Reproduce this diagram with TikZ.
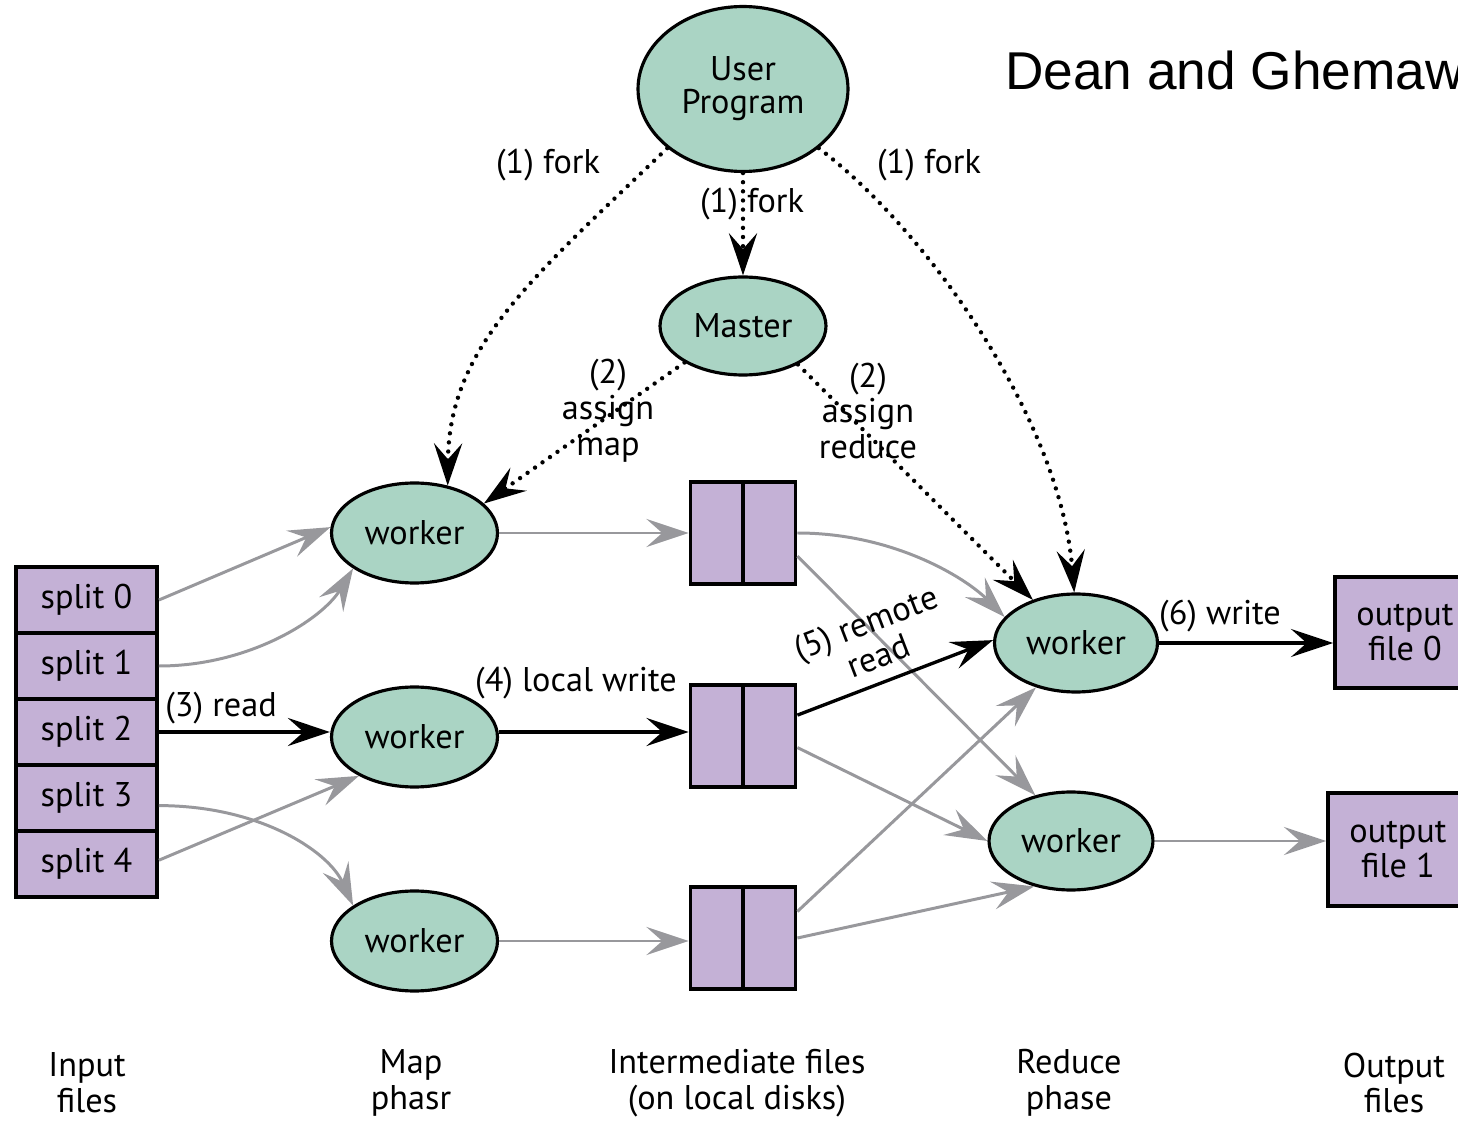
\documentclass[tikz,border=0pt]{standalone}
\usepackage{fontspec}
\setmainfont{PT Sans}
\newfontfamily\creditfont{Liberation Sans}
\usetikzlibrary{arrows.meta,shapes.geometric}
\definecolor{nodegreen}{RGB}{170,212,196}
\definecolor{filepurple}{RGB}{196,177,214}
\definecolor{arrowgray}{RGB}{152,152,156}
\newcommand\lblfont{\fontsize{19.5pt}{20.4pt}\selectfont}
\begin{document}
\begin{tikzpicture}[x=0.02cm,y=-0.02cm,
  proc/.style={ellipse, draw=black, line width=1.8pt, fill=nodegreen,
    inner sep=0pt, font=\lblfont, align=center},
  filebox/.style={rectangle, draw=black, line width=2.2pt, fill=filepurple,
    inner sep=0pt, font=\lblfont, align=center},
  tip/.style={-{Stealth[length=24pt,width=16pt,inset=9pt]}},
  flow/.style={tip, draw=arrowgray, line width=1.7pt},
  active/.style={tip, draw=black, line width=1.9pt},
  ctrl/.style={tip, draw=black, line width=2.5pt, line cap=round,
    dash pattern=on 0pt off 5.2pt},
  lbl/.style={font=\lblfont, inner sep=0pt, align=center},
]
\clip (0,0) rectangle (1458,1121);

% control nodes
\node[proc, minimum width=4.2cm, minimum height=3.3cm,
  font={\fontsize{19.5pt}{18.7pt}\selectfont}] (up) at (743,89) {User\\Program};
\node[proc, minimum width=3.32cm, minimum height=1.96cm] (ms) at (743,326) {Master};

% input splits
\foreach \k/\yy in {0/600,1/666,2/732,3/798,4/864}
  \node[filebox, minimum width=2.82cm, minimum height=1.32cm] (s\k) at (86.5,\yy) {split \k};

% map workers
\node[proc, minimum width=3.32cm, minimum height=2cm] (w1) at (414.5,533) {worker};
\node[proc, minimum width=3.32cm, minimum height=2cm] (w2) at (414.5,737) {worker};
\node[proc, minimum width=3.32cm, minimum height=2cm] (w3) at (414.5,941) {worker};

% intermediate files
\foreach \k/\yy in {1/533,2/736,3/938}{
  \node[filebox, minimum width=2.1cm, minimum height=2.04cm] (i\k) at (743,\yy) {};
  \draw[line width=2.2pt] (i\k.north) -- (i\k.south);
}

% reduce workers
\node[proc, minimum width=3.26cm, minimum height=1.96cm] (r1) at (1076,643) {worker};
\node[proc, minimum width=3.28cm, minimum height=1.96cm] (r2) at (1071,841) {worker};

% output files
\node[filebox, minimum width=2.8cm, minimum height=2.22cm] (o0) at (1405,632.5) {output\\file 0};
\node[filebox, minimum width=2.8cm, minimum height=2.26cm] (o1) at (1398,849.5) {output\\file 1};

% fork and assignment
\draw[ctrl] (up.218) .. controls (530,280) and (449,347) .. (w1.55);
\draw[ctrl] (up.322) .. controls (928,231) and (1060,420) .. (r1.92);
\draw[ctrl] (up.south) -- (ms.north);
\draw[ctrl] (ms.212) -- (w1.23);
\draw[ctrl] (ms.325) -- (r1.135);

% map input
\draw[flow] (s0.east) -- (w1.176);
\draw[flow] (s1.east) .. controls +(90,0) and +(-31,51) .. (w1.210);
\draw[active] (s2.east) -- (s2.east -| w2.west);
\draw[flow] (s3.-6) .. controls +(100,0) and +(-25,-55) .. (w3.150);
\draw[flow] (s4.3) -- (w2.215);

% map output
\draw[flow] (w1.east) -- (i1.west);
\draw[active] (w2.east |- s2.east) -- (s2.east -| i2.west);
\draw[flow] (w3.east) -- (w3.east -| i3.west);

% shuffle
\draw[flow] (i1.east) .. controls +(95,0) and +(-40,-40) .. (r1.160);
\draw[flow] (i1.337) -- (r2.128);
\draw[active] (i2.21) -- (r1.178);
\draw[flow] (i2.-12) -- (r2.west);
\draw[flow] (i3.26) -- (r1.228);
\draw[flow] (i3.east) -- (r2.231);

% reduce output
\draw[active] (r1.east) -- (r1.east -| o0.west);
\draw[flow] (r2.east) -- (r2.east -| o1.west);

% labels
\node[lbl] (lf1) at (548,165) {(1) fork};
\node[lbl] (lf2) at (752,204) {(1) fork};
\node[lbl] (lf3) at (929,165) {(1) fork};
\node[lbl] (la1) at (608,411) {(2)\\assign\\map};
\node[lbl] (la2) at (868,411) {(2)\\assign\\reduce};
\node[lbl] (lrd) at (221,708) {(3) read};
\node[lbl] (llw) at (576,683) {(4) local write};
\node[lbl, rotate=21] (lrr) at (872,639) {(5) remote\\read};
\node[lbl] (lwr) at (1220,616) {(6) write};

% phase captions
\node[lbl] (c1) at (87,1083) {Input\\files};
\node[lbl] (c2) at (411,1083) {Map\\phasr};
\node[lbl] (c3) at (737,1083) {Intermediate files\\(on local disks)};
\node[lbl] (c4) at (1069,1083) {Reduce\\phase};
\node[lbl] (c5) at (1394,1083) {Output\\files};

\node[anchor=base west, inner sep=0pt,
  font={\creditfont\fontsize{30.3pt}{32pt}\selectfont}] (credit) at (1005,90) {Dean and Ghemawat};
\end{tikzpicture}
\end{document}
